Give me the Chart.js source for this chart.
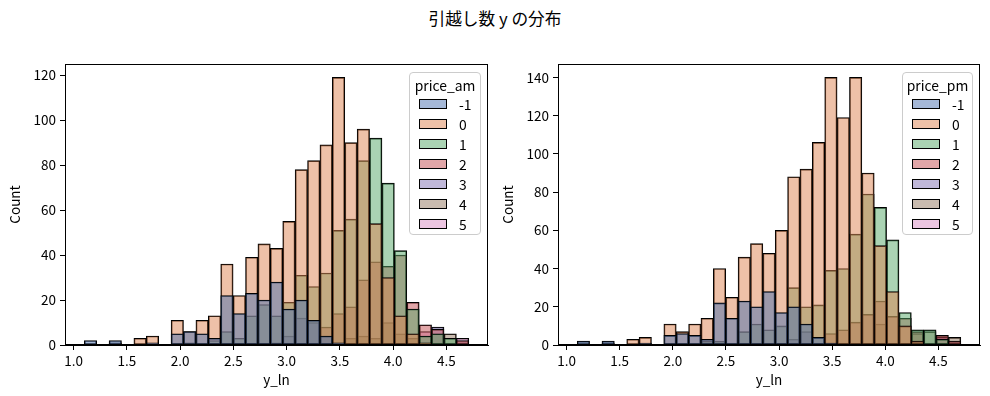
<!DOCTYPE html>
<html><head><meta charset="utf-8">
<script src="https://cdn.jsdelivr.net/npm/chart.js@4.4.0/dist/chart.umd.min.js"></script>
<style>
html,body{margin:0;padding:0;background:#fff;}
#wrap{position:relative;width:990px;height:396px;overflow:hidden;font-family:'Noto Sans CJK JP','DejaVu Sans',sans-serif;color:#000;}
canvas{position:absolute;top:0;}
#title{position:absolute;left:0;width:990px;top:6px;text-align:center;font-size:16.7px;line-height:24px;}
.legend{position:absolute;border:1px solid #cccccc;border-radius:4px;background:rgba(255,255,255,0.8);box-sizing:border-box;z-index:5;}
.lgtitle{position:absolute;left:0;right:0;text-align:center;font-size:13.9px;line-height:16px;}
.lgpatch{position:absolute;width:28px;height:10px;box-sizing:border-box;border:1px solid #000;}
.lglabel{position:absolute;font-size:13.9px;line-height:16px;}
</style>
</head><body>
<div id="wrap">
  <div id="title">引越し数 y の分布</div>
  <canvas id="c1" width="495" height="396" style="left:0px;width:495px;height:396px"></canvas>
  <canvas id="c2" width="497" height="396" style="left:493px;width:497px;height:396px"></canvas>
  <div class="legend" id="lg1" style="left:409px;top:72px;width:72px;height:163px"></div>
  <div class="legend" id="lg2" style="left:902px;top:72px;width:71px;height:163px"></div>
</div>
<script>
// ---- data ----
const binCenters = [1.1583, 1.2748, 1.3913, 1.5078, 1.6243, 1.7408, 1.8573, 1.9738, 2.0903, 2.2068, 2.3233, 2.4398, 2.5563, 2.6728, 2.7893, 2.9058, 3.0223, 3.1388, 3.2553, 3.3718, 3.4883, 3.6048, 3.7213, 3.8378, 3.9543, 4.0708, 4.1873, 4.3038, 4.4203, 4.5368, 4.6533];
const hueLevels = ['-1', '0', '1', '2', '3', '4', '5'];
const hueColors = ['#4c72b0', '#dd8452', '#55a868', '#c44e52', '#8172b3', '#937860', '#da8bc3'];

// price_am counts per bin
const amNeg1 = [2,0,2,0,0,1,0,5,6,5,3,22,14,23,20,28,16,20,11,4,1,0,0,0,0,0,0,0,0,0,0];
const am0    = [0,0,0,0,3,4,0,11,6,11,13,36,22,39,45,43,55,78,82,89,119,90,96,54,30,13,5,1,0,0,0];
const am1    = [0,0,0,0,0,0,0,0,1,0,2,6,3,13,18,13,19,31,26,32,51,56,82,92,72,42,16,4,5,3,0];
const am2    = [0,0,0,0,0,0,0,0,0,0,0,0,0,0,0,0,0,0,0,8,14,17,29,37,35,40,19,9,7,0,2];
const am3    = [0,0,1,0,0,0,0,0,0,0,0,0,0,0,0,1,4,12,10,0,0,0,0,0,0,0,0,0,8,0,1];
const am4    = [0,0,0,0,0,0,0,0,0,0,0,0,0,0,0,0,0,0,0,0,0,3,4,3,10,5,3,0,0,5,0];
const am5    = [0,0,0,0,0,0,0,0,0,0,0,0,0,0,0,0,0,0,0,0,0,0,0,0,0,0,0,6,0,0,3];

// price_pm counts per bin
const pmNeg1 = [2,0,2,0,0,1,0,5,6,5,3,22,14,23,20,28,17,20,11,4,1,0,0,0,0,0,0,0,0,0,0];
const pm0    = [0,0,0,0,3,4,0,11,7,11,14,40,25,46,53,48,60,88,92,106,140,119,140,90,52,28,10,2,0,0,0];
const pm1    = [0,0,0,0,0,0,0,0,0,0,2,2,0,7,11,8,10,30,20,21,39,40,58,79,72,55,17,8,8,3,0];
const pm2    = [0,0,0,0,0,0,0,0,0,0,0,0,0,0,0,0,0,0,0,0,6,8,12,16,23,15,14,7,0,5,2];
const pm3    = [0,0,1,0,0,0,0,0,0,0,0,0,0,0,0,0,0,3,7,0,0,0,0,0,0,0,0,0,0,0,0];
const pm4    = [0,0,0,0,0,0,0,0,0,0,0,0,0,0,0,0,0,0,0,0,0,0,0,0,11,0,0,6,7,0,4];
const pm5    = [0,0,0,0,0,0,0,0,0,0,0,0,0,0,0,0,0,0,0,0,0,0,0,0,0,0,0,0,0,4,1];

const xTicks = [1.0, 1.5, 2.0, 2.5, 3.0, 3.5, 4.0, 4.5];
const yTicksAm = [0, 20, 40, 60, 80, 100, 120];
const yTicksPm = [0, 20, 40, 60, 80, 100, 120, 140];
const xRange = [0.919, 4.892];

// ---- helpers ----
function rgba(hex, a) {
  const n = parseInt(hex.slice(1), 16);
  return `rgba(${(n >> 16) & 255},${(n >> 8) & 255},${n & 255},${a})`;
}
const FONT = "'Noto Sans CJK JP','DejaVu Sans',sans-serif";
Chart.defaults.font.family = FONT;
Chart.defaults.font.size = 13.5;
Chart.defaults.color = '#000';

const framePlugin = {
  id: 'frame',
  afterDraw(chart) {
    const {ctx, chartArea: a} = chart;
    ctx.save();
    ctx.strokeStyle = '#000';
    ctx.lineWidth = 1;
    ctx.strokeRect(Math.round(a.left) + 0.5, Math.round(a.top) + 0.5,
                   Math.round(a.right - a.left) - 1, Math.round(a.bottom - a.top) - 1);
    ctx.restore();
  }
};

function makeChart(id, seriesList, yMax, yTicks, padRight) {
  const datasets = seriesList.map((s, k) => ({
    label: hueLevels[k],
    data: binCenters.map((x, i) => ({x: x, y: s[i] > 0 ? s[i] : null})),
    backgroundColor: rgba(hueColors[k], 0.5),
    borderColor: '#000',
    borderWidth: 1,
    borderSkipped: false,
    grouped: false,
    barPercentage: 1,
    categoryPercentage: 1
  }));
  return new Chart(document.getElementById(id), {
    type: 'bar',
    data: {datasets},
    plugins: [framePlugin],
    options: {
      responsive: false, animation: false, devicePixelRatio: 1,
      layout: {padding: {top: 64, right: padRight, left: 0, bottom: 0}},
      plugins: {legend: {display: false}, tooltip: {enabled: false}},
      scales: {
        x: {
          type: 'linear', min: xRange[0], max: xRange[1], offset: false,
          afterFit: s => { s.height = 51; },
          afterBuildTicks: s => { s.ticks = xTicks.map(v => ({value: v})); },
          ticks: {callback: v => Number(v).toFixed(1), color: '#000', padding: 3, maxRotation: 0, autoSkip: false},
          grid: {display: true, drawOnChartArea: false, drawTicks: true, tickLength: 5, color: '#000', offset: false},
          border: {display: true, color: '#000', width: 1},
          title: {display: true, text: 'y_ln', color: '#000', padding: {top: 0, bottom: 8}}
        },
        y: {
          type: 'linear', min: 0, max: yMax,
          afterFit: s => { s.width = 65; },
          afterBuildTicks: s => { s.ticks = yTicks.map(v => ({value: v})); },
          ticks: {callback: v => String(v), color: '#000', padding: 4, autoSkip: false},
          grid: {display: true, drawOnChartArea: false, drawTicks: true, tickLength: 5, color: '#000'},
          border: {display: true, color: '#000', width: 1},
          title: {display: true, text: 'Count', color: '#000', padding: {top: 7, bottom: 0}}
        }
      }
    }
  });
}

function makeLegend(id, title) {
  const el = document.getElementById(id);
  const t = document.createElement('div');
  t.className = 'lgtitle';
  t.style.top = '4px';
  t.textContent = title;
  el.appendChild(t);
  hueLevels.forEach((lv, k) => {
    const cy = 30.5 + 20 * k;
    const p = document.createElement('div');
    p.className = 'lgpatch';
    p.style.left = '9px';
    p.style.top = (cy - 5) + 'px';
    p.style.background = rgba(hueColors[k], 0.5);
    el.appendChild(p);
    const l = document.createElement('div');
    l.className = 'lglabel';
    l.style.left = '49px';
    l.style.top = (cy - 8) + 'px';
    l.textContent = lv;
    el.appendChild(l);
  });
}

makeChart('c1', [amNeg1, am0, am1, am2, am3, am4, am5], 124.95, yTicksAm, 7);
makeChart('c2', [pmNeg1, pm0, pm1, pm2, pm3, pm4, pm5], 147, yTicksPm, 10);
makeLegend('lg1', 'price_am');
makeLegend('lg2', 'price_pm');
</script>
</body></html>
